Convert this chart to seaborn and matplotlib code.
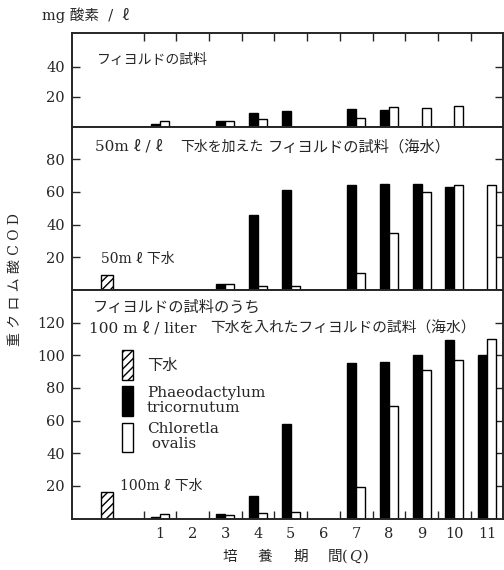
import numpy as np
import pandas as pd
import matplotlib
matplotlib.use('Agg')
import matplotlib.pyplot as plt
from matplotlib.patches import Patch
from matplotlib.ticker import FixedLocator
import seaborn as sns

sns.set_style('ticks')
plt.rcParams['font.family'] = ['DejaVu Serif', 'Noto Sans CJK JP', 'DejaVu Sans']
plt.rcParams['hatch.linewidth'] = 1.0

nan = np.nan
days = list(range(1, 12))
species = ['Phaeodactylum', 'Chloretla']

# fjord sample only
fjord_phaeo = [2, nan, 4, 9, 10.5, nan, 12, 11, nan, nan, nan]
fjord_chlor = [4, nan, 4, 5, nan, nan, 6, 13, 12.5, 14, nan]

# fjord + 50 ml/l sewage
p50 = [nan, nan, 3.5, 46, 61, nan, 64, 65, 65, 63, nan]
c50 = [nan, nan, 3.5, 2.5, 2.5, nan, 10.5, 35, 60, 64, 64]

# fjord + 100 ml/l sewage
p100 = [1, nan, 3, 14, 58, nan, 95, 96, 100, 109, 100]
c100 = [3, nan, 2, 3.5, 4, nan, 19, 69, 91, 97, 110]

# sewage alone (hatched bar)
sewage_x = -0.62
sewage_vals = [None, 9, 16]

ylims = [62.5, 100, 140]
yticks = [[20, 40], [20, 40, 60, 80], [20, 40, 60, 80, 100, 120]]


def long_df(phaeo, chlor):
    df = pd.DataFrame({
        'day': days * 2,
        'species': [species[0]] * 11 + [species[1]] * 11,
        'cod': phaeo + chlor,
    })
    return df.dropna()


frames = [long_df(fjord_phaeo, fjord_chlor), long_df(p50, c50), long_df(p100, c100)]
pal = {'Phaeodactylum': 'black', 'Chloretla': 'white'}

fig, axes = plt.subplots(3, 1, figsize=(5.04, 5.70), dpi=100, sharex=True,
                         gridspec_kw={'height_ratios': [93.7, 163, 228.5], 'hspace': 0})
fig.subplots_adjust(left=72/504, right=503/504, top=1-33/570, bottom=1-518.5/570)

for i, ax in enumerate(axes):
    sns.barplot(data=frames[i], x='day', y='cod', hue='species', hue_order=species,
                palette=pal, native_scale=True, width=0.55, dodge=True, saturation=1,
                edgecolor='black', linewidth=1.0, legend=False, errorbar=None, ax=ax)
    if sewage_vals[i] is not None:
        sns.barplot(x=[sewage_x], y=[sewage_vals[i]], native_scale=True, width=0.34,
                    color='white', edgecolor='black', hatch='////', linewidth=1.0,
                    saturation=1, errorbar=None, ax=ax)
    ax.set_ylim(0, ylims[i])
    ax.set_yticks(yticks[i])
    ax.set_xlabel('')
    ax.set_ylabel('')
    for s in ax.spines.values():
        s.set_linewidth(1.4)
    ax.tick_params(axis='y', which='major', direction='in', left=True, right=True,
                   length=6, width=1, labelsize=10.5, pad=5)
    ax.tick_params(axis='x', which='both', bottom=False, top=False, labelbottom=False)

ax1, ax2, ax3 = axes
ax3.set_xlim(-1.69, 11.49)
ax3.xaxis.set_minor_locator(FixedLocator(np.arange(0.5, 11, 1)))
ax3.set_xticks(days, labels=[str(d) for d in days])
ax1.tick_params(axis='x', which='minor', top=True, direction='in', length=6, width=1)
ax3.tick_params(axis='x', which='minor', bottom=True, direction='in', length=6, width=1)
ax3.tick_params(axis='x', which='major', bottom=True, length=0, labelbottom=True,
                labelsize=10.5, pad=6)

# x axis title, written piece by piece so the Q can be italic
xlabel_parts = [(223, '培', 'normal'), (258, '養', 'normal'), (293, '期', 'normal'),
                (328, '間', 'normal'), (342, '(', 'normal'), (349, 'Q', 'italic'),
                (363, ')', 'normal')]
for px, s, st in xlabel_parts:
    fig.text(px/504, 1-557/570, s, fontsize=10.5, style=st, va='center', ha='left')

# texts
fig.text(42/504, 1-15/570, 'mg 酸素  /  ℓ', fontsize=10.5, va='center', ha='left')
fig.text(15/504, 1-280/570, '重 ク ロ ム 酸 C O D', rotation=90, fontsize=10,
         va='center', ha='center')
fig.text(97/504, 1-60/570, 'フィヨルドの試料', fontsize=10, va='center')
fig.text(95/504, 1-147/570, '50m ℓ / ℓ', fontsize=11, va='center')
fig.text(180/504, 1-147/570, '下水を加えた', fontsize=10, va='center')
fig.text(268/504, 1-147/570, 'フィヨルドの試料（海水）', fontsize=11, va='center')
fig.text(101/504, 1-259/570, '50m ℓ 下水', fontsize=10, va='center')
fig.text(93/504, 1-307/570, 'フィヨルドの試料のうち', fontsize=11, va='center')
fig.text(89/504, 1-328/570, '100 m ℓ / liter', fontsize=11, va='center')
fig.text(210/504, 1-328/570, '下水を入れたフィヨルドの試料（海水）', fontsize=10.6,
         va='center')
fig.text(120/504, 1-486/570, '100m ℓ 下水', fontsize=10, va='center')

handles = [Patch(facecolor='white', edgecolor='black', hatch='////', linewidth=1.0),
           Patch(facecolor='black', edgecolor='black', linewidth=1.0),
           Patch(facecolor='white', edgecolor='black', linewidth=1.0)]
labels = ['下水', 'Phaeodactylum\ntricornutum', 'Chloretla\n ovalis']
leg = ax3.legend(handles, labels, loc='upper left', bbox_to_anchor=(0.116, 0.737),
                 frameon=False, fontsize=11, handlelength=0.7, handleheight=2.64,
                 handletextpad=0.92, labelspacing=0.4, borderpad=0, borderaxespad=0)
for t in leg.get_texts():
    t.set_linespacing(1.05)

fig.savefig('out.png', dpi=100)
